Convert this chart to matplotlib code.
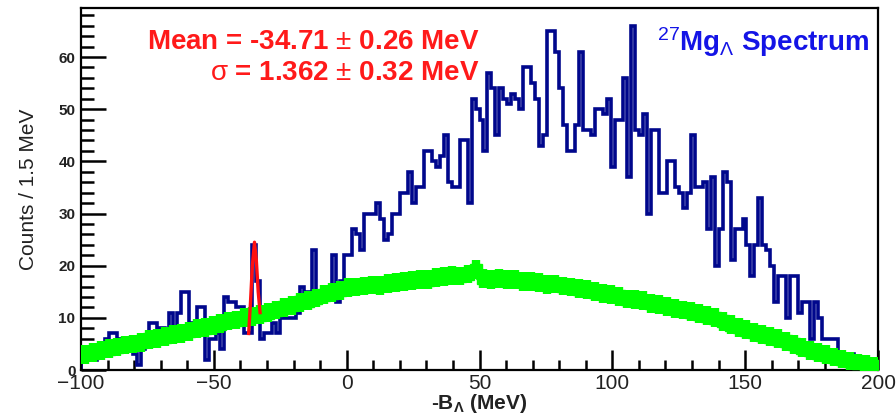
import numpy as np
import matplotlib
matplotlib.use('Agg')
import matplotlib.pyplot as plt
from matplotlib.ticker import MultipleLocator

plt.rcParams['font.family'] = ['Liberation Sans', 'DejaVu Sans']
plt.rcParams['mathtext.fontset'] = 'custom'
plt.rcParams['mathtext.rm'] = 'Liberation Sans'
plt.rcParams['mathtext.it'] = 'Liberation Sans'
plt.rcParams['mathtext.bf'] = 'Liberation Sans:bold'

# spectrum, counts per 1.5 MeV bin from -100 to 200 MeV
counts = [
    2, 2, 3, 2, 3, 4, 6, 7, 7, 6,
    4, 6, 6, 3, 1, 4, 5, 9, 9, 8,
    8, 7, 11, 8, 11, 15, 15, 9, 9, 12,
    12, 2, 6, 6, 7, 4, 14, 13, 13, 12,
    12, 7, 7, 24, 17, 6, 7, 7, 9, 7,
    10, 10, 10, 10, 11, 16, 15, 15, 23, 15,
    15, 16, 15, 22, 13, 17, 22, 22, 27, 26,
    23, 30, 30, 30, 32, 29, 25, 26, 30, 30,
    34, 34, 38, 32, 35, 35, 42, 42, 40, 39,
    41, 45, 36, 35, 35, 44, 44, 32, 52, 50,
    48, 42, 57, 54, 45, 54, 52, 51, 53, 52,
    50, 58, 58, 55, 52, 43, 45, 65, 65, 61,
    54, 47, 42, 42, 47, 61, 46, 46, 45, 50,
    50, 49, 52, 39, 48, 48, 56, 37, 66, 46,
    45, 49, 30, 46, 46, 34, 34, 40, 40, 35,
    34, 31, 34, 45, 35, 35, 36, 27, 37, 20,
    27, 38, 36, 21, 27, 27, 29, 24, 18, 24,
    33, 24, 23, 20, 13, 18, 18, 10, 18, 18,
    11, 13, 13, 6, 13, 10, 6, 6, 6, 6,
    3, 3, 3, 3, 2, 2, 2, 2, 2, 2,
]

# mixed-event background, one point every 3 MeV
bkg = [
    3.0, 3.3, 3.8, 4.1, 4.4, 4.8, 5.0, 5.3, 5.9, 6.1,
    6.4, 6.8, 7.0, 7.4, 7.9, 8.1, 8.5, 8.9, 9.4, 9.6,
    10.0, 10.3, 10.6, 11.0, 11.5, 12.0, 12.4, 13.0, 13.3, 13.8,
    14.4, 14.8, 15.3, 15.8, 15.9, 16.1, 16.3, 16.2, 16.6, 16.8,
    17.0, 17.1, 17.4, 17.3, 17.7, 17.9, 18.1, 18.0, 18.4, 19.2,
    17.6, 17.4, 17.5, 17.3, 17.4, 17.0, 16.9, 16.8, 16.4, 16.5,
    16.1, 15.9, 15.6, 15.4, 15.0, 14.7, 14.4, 14.1, 13.6, 13.5,
    13.3, 12.8, 12.5, 12.2, 11.8, 11.5, 11.2, 10.8, 10.4, 10.0,
    9.3, 8.7, 8.2, 7.7, 7.2, 6.8, 6.4, 6.0, 5.5, 4.9,
    4.3, 3.8, 3.3, 2.9, 2.5, 2.1, 1.7, 1.3, 1.0, 0.7,
]

# gaussian fit around the peak
fit_x = [-36.9, -36.2, -35.5, -34.7, -34.0, -33.3, -32.6]
fit_y = [7.0, 13.0, 20.0, 24.5, 21.0, 15.0, 11.0]

edges = np.linspace(-100, 200, len(counts) + 1)
bkg_x = np.linspace(-98.5, 198.5, len(bkg))

fig = plt.figure(figsize=(8.96, 4.15), dpi=100)
ax = fig.add_axes([81 / 896, 1 - 370 / 415, 797 / 896, 362 / 415])

ax.stairs(counts, edges, color='#00078c', lw=2.6, zorder=2)
ax.errorbar(bkg_x, bkg, yerr=1.8, fmt='s', color='#00ff00', ms=8,
            elinewidth=6, capsize=0, zorder=3)
ax.plot(bkg_x, bkg, color='#00ff00', lw=9, zorder=3)
ax.plot(fit_x, fit_y, color='#ff1010', lw=2.4, zorder=4)

ax.set_xlim(-100, 200)
ax.set_ylim(0, 69.4)

ax.xaxis.set_major_locator(MultipleLocator(50))
ax.xaxis.set_minor_locator(MultipleLocator(10))
ax.yaxis.set_major_locator(MultipleLocator(10))
ax.yaxis.set_minor_locator(MultipleLocator(2))
ax.tick_params(axis='both', which='both', direction='in', width=1.8,
               color='black', top=False, right=False)
ax.tick_params(axis='y', which='major', length=18, pad=4, labelsize=11)
ax.tick_params(axis='y', which='minor', length=9.5)
ax.tick_params(axis='x', which='major', length=14.5, pad=3, labelsize=15)
ax.tick_params(axis='x', which='minor', length=7.5)
for lab in ax.get_yticklabels():
    lab.set_fontweight('bold')
    lab.set_color('#222222')
for lab in ax.get_xticklabels():
    lab.set_color('#222222')
for sp in ax.spines.values():
    sp.set_linewidth(1.6)

ax.set_ylabel('Counts / 1.5 MeV', fontsize=15, color='#222222', labelpad=15)
ax.text(0.5, -0.06, r'-B$_{\mathbf{\Lambda}}$ (MeV)', transform=ax.transAxes,
        ha='center', va='top', fontsize=15, fontweight='bold', color='#222222')

ax.text(0.5, 0.905, 'Mean = -34.71 $\\pm$ 0.26 MeV', transform=ax.transAxes,
        ha='right', va='center', fontsize=20, fontweight='bold', color='#ff1a1a')
ax.text(0.5, 0.82, '$\\sigma$ = 1.362 $\\pm$ 0.32 MeV', transform=ax.transAxes,
        ha='right', va='center', fontsize=20, fontweight='bold', color='#ff1a1a')
ax.text(0.99, 0.905, r'$^{27}$Mg$_{\Lambda}$ Spectrum', transform=ax.transAxes,
        ha='right', va='center', fontsize=20, fontweight='bold', color='#1414e6')

fig.savefig('out.png', dpi=100)
